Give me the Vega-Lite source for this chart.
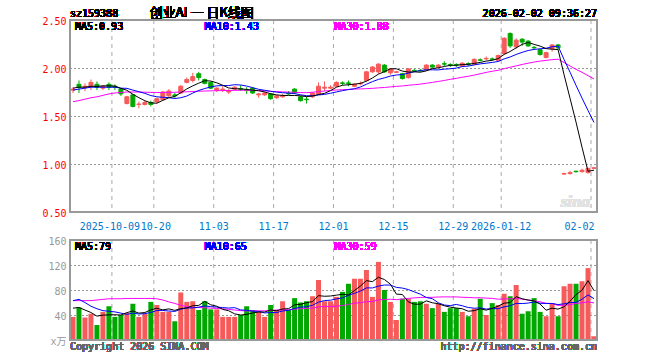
{
"$schema": "https://vega.github.io/schema/vega-lite/v6.json",
"width": 527, "height": 320,
"autosize": {"type": "none"},
"padding": {"left": 70, "top": 20, "right": 63, "bottom": 20},
"background": "#ffffff",
"config": {"view": {"stroke": null}, "text": {"font": "DejaVu Sans Mono", "fontSize": 10}, "axis": {"labelFont": "DejaVu Sans Mono", "labelFontSize": 10}},
"datasets": {
"t": [{"d":"2025-10-09","label":"2025-10-09"},{"d":"2025-10-20","label":"10-20"},{"d":"2025-11-03","label":"11-03"},{"d":"2025-11-17","label":"11-17"},{"d":"2025-12-01","label":"12-01"},{"d":"2025-12-15","label":"12-15"},{"d":"2025-12-29","label":"12-29"},{"d":"2026-01-12","label":"2026-01-12"},{"d":"2026-02-02","label":"02-02"}],
"pg": [{"p":1.0},{"p":1.5},{"p":2.0}],
"vg": [{"q":40},{"q":80},{"q":120}],
"k": [
{"d":"2025-09-22","o":1.77,"h":1.80,"l":1.74,"c":1.78,"v":37,"m5":1.79,"m10":1.77,"m30":1.65,"v5":51,"v10":63,"v30":63},
{"d":"2025-09-23","o":1.83,"h":1.87,"l":1.74,"c":1.80,"v":52,"m5":1.80,"m10":1.78,"m30":1.66,"v5":52,"v10":65,"v30":63},
{"d":"2025-09-24","o":1.80,"h":1.84,"l":1.76,"c":1.81,"v":36,"m5":1.80,"m10":1.79,"m30":1.675,"v5":48,"v10":60,"v30":63},
{"d":"2025-09-25","o":1.81,"h":1.88,"l":1.77,"c":1.85,"v":42,"m5":1.81,"m10":1.80,"m30":1.69,"v5":44,"v10":54,"v30":63},
{"d":"2025-09-26","o":1.83,"h":1.86,"l":1.77,"c":1.80,"v":24,"m5":1.808,"m10":1.80,"m30":1.70,"v5":38.2,"v10":50,"v30":64},
{"d":"2025-09-29","o":1.79,"h":1.82,"l":1.77,"c":1.81,"v":45,"m5":1.814,"m10":1.80,"m30":1.715,"v5":39.8,"v10":47,"v30":65},
{"d":"2025-09-30","o":1.83,"h":1.85,"l":1.77,"c":1.80,"v":54,"m5":1.814,"m10":1.80,"m30":1.73,"v5":40.2,"v10":46,"v30":66},
{"d":"2025-10-09","o":1.81,"h":1.83,"l":1.77,"c":1.80,"v":37,"m5":1.812,"m10":1.80,"m30":1.74,"v5":40.4,"v10":45,"v30":66},
{"d":"2025-10-10","o":1.78,"h":1.79,"l":1.71,"c":1.73,"v":40,"m5":1.788,"m10":1.79,"m30":1.745,"v5":40,"v10":43,"v30":66},
{"d":"2025-10-13","o":1.63,"h":1.71,"l":1.62,"c":1.70,"v":43,"m5":1.768,"m10":1.788,"m30":1.75,"v5":43.8,"v10":41,"v30":66.5},
{"d":"2025-10-14","o":1.72,"h":1.73,"l":1.59,"c":1.60,"v":58,"m5":1.726,"m10":1.77,"m30":1.75,"v5":46.4,"v10":43.1,"v30":66.5},
{"d":"2025-10-15","o":1.62,"h":1.65,"l":1.58,"c":1.625,"v":37,"m5":1.691,"m10":1.753,"m30":1.75,"v5":43,"v10":41.6,"v30":66.5},
{"d":"2025-10-16","o":1.62,"h":1.66,"l":1.61,"c":1.64,"v":42,"m5":1.659,"m10":1.736,"m30":1.748,"v5":44,"v10":42.2,"v30":66.5},
{"d":"2025-10-17","o":1.64,"h":1.66,"l":1.60,"c":1.62,"v":61,"m5":1.637,"m10":1.713,"m30":1.746,"v5":48.2,"v10":44.1,"v30":66.5},
{"d":"2025-10-20","o":1.65,"h":1.69,"l":1.63,"c":1.68,"v":56,"m5":1.633,"m10":1.70,"m30":1.745,"v5":50.8,"v10":47.3,"v30":66},
{"d":"2025-10-21","o":1.67,"h":1.76,"l":1.66,"c":1.75,"v":45,"m5":1.663,"m10":1.695,"m30":1.745,"v5":48.2,"v10":47.3,"v30":64},
{"d":"2025-10-22","o":1.71,"h":1.78,"l":1.70,"c":1.76,"v":45,"m5":1.69,"m10":1.691,"m30":1.746,"v5":49.8,"v10":46.4,"v30":61},
{"d":"2025-10-23","o":1.72,"h":1.74,"l":1.69,"c":1.71,"v":30,"m5":1.704,"m10":1.682,"m30":1.747,"v5":47.4,"v10":45.7,"v30":58.5},
{"d":"2025-10-24","o":1.74,"h":1.82,"l":1.73,"c":1.81,"v":76,"m5":1.742,"m10":1.69,"m30":1.75,"v5":50.4,"v10":49.3,"v30":55.5},
{"d":"2025-10-27","o":1.85,"h":1.90,"l":1.84,"c":1.88,"v":61,"m5":1.782,"m10":1.708,"m30":1.752,"v5":51.4,"v10":51.1,"v30":53.5},
{"d":"2025-10-28","o":1.87,"h":1.95,"l":1.85,"c":1.91,"v":62,"m5":1.814,"m10":1.739,"m30":1.755,"v5":54.8,"v10":51.5,"v30":52},
{"d":"2025-10-29","o":1.94,"h":1.96,"l":1.87,"c":1.90,"v":48,"m5":1.842,"m10":1.766,"m30":1.758,"v5":55.4,"v10":52.6,"v30":52},
{"d":"2025-10-30","o":1.88,"h":1.89,"l":1.83,"c":1.84,"v":62,"m5":1.868,"m10":1.786,"m30":1.76,"v5":61.8,"v10":54.6,"v30":51.5},
{"d":"2025-10-31","o":1.85,"h":1.86,"l":1.78,"c":1.79,"v":49,"m5":1.864,"m10":1.803,"m30":1.762,"v5":56.4,"v10":53.4,"v30":51},
{"d":"2025-11-03","o":1.77,"h":1.80,"l":1.75,"c":1.79,"v":49,"m5":1.846,"m10":1.814,"m30":1.764,"v5":54,"v10":52.7,"v30":50.5},
{"d":"2025-11-04","o":1.775,"h":1.81,"l":1.75,"c":1.78,"v":37,"m5":1.82,"m10":1.817,"m30":1.765,"v5":49,"v10":51.9,"v30":50},
{"d":"2025-11-05","o":1.75,"h":1.78,"l":1.73,"c":1.76,"v":37,"m5":1.792,"m10":1.817,"m30":1.766,"v5":46.8,"v10":51.1,"v30":49},
{"d":"2025-11-06","o":1.78,"h":1.81,"l":1.77,"c":1.80,"v":37,"m5":1.784,"m10":1.826,"m30":1.767,"v5":41.8,"v10":51.8,"v30":48},
{"d":"2025-11-07","o":1.785,"h":1.82,"l":1.76,"c":1.78,"v":40,"m5":1.782,"m10":1.823,"m30":1.768,"v5":40,"v10":48.2,"v30":47},
{"d":"2025-11-10","o":1.77,"h":1.80,"l":1.73,"c":1.765,"v":54,"m5":1.777,"m10":1.812,"m30":1.769,"v5":41,"v10":47.5,"v30":46.5},
{"d":"2025-11-11","o":1.79,"h":1.80,"l":1.73,"c":1.74,"v":48,"m5":1.769,"m10":1.795,"m30":1.768,"v5":43.2,"v10":46.1,"v30":46.9},
{"d":"2025-11-12","o":1.72,"h":1.74,"l":1.69,"c":1.73,"v":45,"m5":1.763,"m10":1.778,"m30":1.765,"v5":44.8,"v10":45.8,"v30":46.7},
{"d":"2025-11-13","o":1.72,"h":1.75,"l":1.71,"c":1.74,"v":37,"m5":1.751,"m10":1.768,"m30":1.763,"v5":44.8,"v10":43.3,"v30":46.7},
{"d":"2025-11-14","o":1.73,"h":1.74,"l":1.67,"c":1.68,"v":56,"m5":1.731,"m10":1.757,"m30":1.757,"v5":48,"v10":44,"v30":47.2},
{"d":"2025-11-17","o":1.69,"h":1.72,"l":1.68,"c":1.71,"v":48,"m5":1.72,"m10":1.749,"m30":1.754,"v5":46.8,"v10":43.9,"v30":48},
{"d":"2025-11-18","o":1.70,"h":1.73,"l":1.69,"c":1.71,"v":62,"m5":1.714,"m10":1.742,"m30":1.751,"v5":49.6,"v10":46.4,"v30":48.5},
{"d":"2025-11-19","o":1.735,"h":1.76,"l":1.72,"c":1.73,"v":48,"m5":1.714,"m10":1.739,"m30":1.749,"v5":50.2,"v10":47.5,"v30":48.3},
{"d":"2025-11-20","o":1.78,"h":1.79,"l":1.73,"c":1.74,"v":67,"m5":1.714,"m10":1.733,"m30":1.747,"v5":56.2,"v10":50.5,"v30":49.3},
{"d":"2025-11-21","o":1.70,"h":1.71,"l":1.65,"c":1.66,"v":60,"m5":1.71,"m10":1.721,"m30":1.744,"v5":57,"v10":52.5,"v30":50},
{"d":"2025-11-24","o":1.675,"h":1.70,"l":1.63,"c":1.67,"v":62,"m5":1.702,"m10":1.711,"m30":1.743,"v5":59.8,"v10":53.3,"v30":50.6},
{"d":"2025-11-25","o":1.70,"h":1.75,"l":1.69,"c":1.74,"v":70,"m5":1.708,"m10":1.711,"m30":1.748,"v5":61.4,"v10":55.5,"v30":51},
{"d":"2025-11-26","o":1.73,"h":1.85,"l":1.72,"c":1.81,"v":96,"m5":1.724,"m10":1.719,"m30":1.754,"v5":71,"v10":60.6,"v30":53},
{"d":"2025-11-27","o":1.79,"h":1.86,"l":1.76,"c":1.80,"v":62,"m5":1.736,"m10":1.725,"m30":1.76,"v5":70,"v10":63.1,"v30":53.7},
{"d":"2025-11-28","o":1.79,"h":1.82,"l":1.78,"c":1.80,"v":62,"m5":1.764,"m10":1.737,"m30":1.766,"v5":70.4,"v10":63.7,"v30":53.7},
{"d":"2025-12-01","o":1.81,"h":1.86,"l":1.80,"c":1.85,"v":69,"m5":1.80,"m10":1.751,"m30":1.771,"v5":71.8,"v10":65.8,"v30":54.1},
{"d":"2025-12-02","o":1.845,"h":1.86,"l":1.82,"c":1.84,"v":77,"m5":1.82,"m10":1.764,"m30":1.774,"v5":73.2,"v10":67.3,"v30":55.2},
{"d":"2025-12-03","o":1.845,"h":1.87,"l":1.81,"c":1.84,"v":90,"m5":1.826,"m10":1.775,"m30":1.777,"v5":72,"v10":71.5,"v30":56.7},
{"d":"2025-12-04","o":1.81,"h":1.84,"l":1.80,"c":1.83,"v":98,"m5":1.832,"m10":1.784,"m30":1.781,"v5":79.2,"v10":74.6,"v30":59},
{"d":"2025-12-05","o":1.835,"h":1.86,"l":1.82,"c":1.84,"v":98,"m5":1.84,"m10":1.802,"m30":1.782,"v5":86.4,"v10":78.4,"v30":59.7},
{"d":"2025-12-08","o":1.87,"h":1.97,"l":1.86,"c":1.96,"v":112,"m5":1.862,"m10":1.831,"m30":1.785,"v5":95,"v10":83.4,"v30":61.4},
{"d":"2025-12-09","o":1.96,"h":2.02,"l":1.95,"c":2.01,"v":69,"m5":1.896,"m10":1.858,"m30":1.788,"v5":93.4,"v10":83.3,"v30":61.6},
{"d":"2025-12-10","o":1.96,"h":2.05,"l":1.94,"c":2.04,"v":125,"m5":1.936,"m10":1.881,"m30":1.793,"v5":100.4,"v10":86.2,"v30":64.2},
{"d":"2025-12-11","o":2.03,"h":2.04,"l":1.95,"c":1.96,"v":80,"m5":1.962,"m10":1.897,"m30":1.797,"v5":96.8,"v10":88,"v30":64.8},
{"d":"2025-12-12","o":1.95,"h":2.00,"l":1.93,"c":1.99,"v":61,"m5":1.992,"m10":1.916,"m30":1.803,"v5":89.4,"v10":87.9,"v30":65.2},
{"d":"2025-12-15","o":1.955,"h":1.97,"l":1.95,"c":1.96,"v":32,"m5":1.992,"m10":1.927,"m30":1.809,"v5":73.4,"v10":84.2,"v30":64.6},
{"d":"2025-12-16","o":1.94,"h":1.95,"l":1.88,"c":1.89,"v":66,"m5":1.968,"m10":1.932,"m30":1.813,"v5":72.8,"v10":83.1,"v30":65.6},
{"d":"2025-12-17","o":1.90,"h":2.00,"l":1.89,"c":1.99,"v":66,"m5":1.958,"m10":1.947,"m30":1.82,"v5":61,"v10":80.7,"v30":66.6},
{"d":"2025-12-18","o":1.975,"h":1.99,"l":1.96,"c":1.97,"v":61,"m5":1.96,"m10":1.961,"m30":1.826,"v5":57.2,"v10":77,"v30":67.4},
{"d":"2025-12-19","o":1.975,"h":1.99,"l":1.96,"c":1.97,"v":62,"m5":1.956,"m10":1.974,"m30":1.832,"v5":57.4,"v10":73.4,"v30":68.1},
{"d":"2025-12-22","o":1.98,"h":2.04,"l":1.97,"c":2.03,"v":58,"m5":1.97,"m10":1.981,"m30":1.841,"v5":62.6,"v10":68,"v30":68.2},
{"d":"2025-12-23","o":2.03,"h":2.04,"l":2.00,"c":2.01,"v":51,"m5":1.994,"m10":1.981,"m30":1.85,"v5":59.6,"v10":66.2,"v30":68.3},
{"d":"2025-12-24","o":2.01,"h":2.04,"l":2.00,"c":2.03,"v":58,"m5":2.002,"m10":1.98,"m30":1.86,"v5":58,"v10":59.5,"v30":68.8},
{"d":"2025-12-25","o":2.045,"h":2.07,"l":2.02,"c":2.04,"v":45,"m5":2.016,"m10":1.988,"m30":1.87,"v5":54.8,"v10":56,"v30":69},
{"d":"2025-12-26","o":2.035,"h":2.05,"l":2.01,"c":2.03,"v":51,"m5":2.028,"m10":1.992,"m30":1.882,"v5":52.6,"v10":55,"v30":68.9},
{"d":"2025-12-29","o":2.035,"h":2.05,"l":2.01,"c":2.03,"v":51,"m5":2.028,"m10":1.999,"m30":1.892,"v5":51.2,"v10":56.9,"v30":69},
{"d":"2025-12-30","o":2.02,"h":2.06,"l":2.01,"c":2.05,"v":45,"m5":2.036,"m10":2.015,"m30":1.904,"v5":50,"v10":54.8,"v30":68.4},
{"d":"2025-12-31","o":2.045,"h":2.06,"l":2.02,"c":2.04,"v":38,"m5":2.038,"m10":2.02,"m30":1.914,"v5":46,"v10":52,"v30":68.1},
{"d":"2026-01-05","o":2.04,"h":2.10,"l":2.03,"c":2.09,"v":50,"m5":2.048,"m10":2.032,"m30":1.926,"v5":47,"v10":50.9,"v30":67.5},
{"d":"2026-01-06","o":2.085,"h":2.10,"l":2.07,"c":2.08,"v":66,"m5":2.058,"m10":2.043,"m30":1.94,"v5":50,"v10":51.3,"v30":67.7},
{"d":"2026-01-07","o":2.095,"h":2.12,"l":2.08,"c":2.10,"v":40,"m5":2.072,"m10":2.05,"m30":1.954,"v5":47.8,"v10":49.5,"v30":67},
{"d":"2026-01-08","o":2.095,"h":2.11,"l":2.08,"c":2.09,"v":59,"m5":2.08,"m10":2.058,"m30":1.966,"v5":50.6,"v10":50.3,"v30":66.6},
{"d":"2026-01-09","o":2.08,"h":2.14,"l":2.07,"c":2.13,"v":56,"m5":2.098,"m10":2.068,"m30":1.976,"v5":54.2,"v10":50.1,"v30":65.3},
{"d":"2026-01-12","o":2.15,"h":2.32,"l":2.14,"c":2.31,"v":74,"m5":2.142,"m10":2.095,"m30":1.993,"v5":59,"v10":53,"v30":65.7},
{"d":"2026-01-13","o":2.36,"h":2.37,"l":2.21,"c":2.23,"v":70,"m5":2.172,"m10":2.115,"m30":2.008,"v5":59.8,"v10":54.9,"v30":65.9},
{"d":"2026-01-14","o":2.22,"h":2.31,"l":2.20,"c":2.29,"v":88,"m5":2.21,"m10":2.141,"m30":2.022,"v5":69.4,"v10":58.6,"v30":66.6},
{"d":"2026-01-15","o":2.30,"h":2.31,"l":2.23,"c":2.27,"v":42,"m5":2.246,"m10":2.163,"m30":2.037,"v5":66,"v10":58.3,"v30":65.4},
{"d":"2026-01-16","o":2.28,"h":2.29,"l":2.22,"c":2.23,"v":46,"m5":2.266,"m10":2.182,"m30":2.05,"v5":64,"v10":59.1,"v30":63.9},
{"d":"2026-01-19","o":2.215,"h":2.23,"l":2.19,"c":2.21,"v":67,"m5":2.246,"m10":2.194,"m30":2.062,"v5":62.6,"v10":60.8,"v30":62.9},
{"d":"2026-01-20","o":2.19,"h":2.20,"l":2.13,"c":2.14,"v":45,"m5":2.228,"m10":2.20,"m30":2.072,"v5":57.6,"v10":58.7,"v30":61.1},
{"d":"2026-01-21","o":2.11,"h":2.17,"l":2.10,"c":2.16,"v":38,"m5":2.202,"m10":2.206,"m30":2.079,"v5":47.6,"v10":58.5,"v30":58.7},
{"d":"2026-01-22","o":2.20,"h":2.25,"l":2.17,"c":2.24,"v":59,"m5":2.196,"m10":2.221,"m30":2.087,"v5":51,"v10":58.5,"v30":58.3},
{"d":"2026-01-23","o":2.24,"h":2.25,"l":2.19,"c":2.21,"v":38,"m5":2.192,"m10":2.229,"m30":2.092,"v5":49.4,"v10":56.7,"v30":55.4},
{"d":"2026-01-26","o":0.895,"h":0.91,"l":0.89,"c":0.90,"v":86,"m5":1.93,"m10":2.088,"m30":2.057,"v5":53.2,"v10":57.9,"v30":55.6},
{"d":"2026-01-27","o":0.90,"h":0.93,"l":0.89,"c":0.91,"v":90,"m5":1.684,"m10":1.956,"m30":2.021,"v5":62.2,"v10":59.9,"v30":56.6},
{"d":"2026-01-28","o":0.925,"h":0.93,"l":0.91,"c":0.92,"v":90,"m5":1.436,"m10":1.819,"m30":1.986,"v5":72.6,"v10":60.1,"v30":58.5},
{"d":"2026-01-29","o":0.92,"h":0.95,"l":0.91,"c":0.935,"v":94,"m5":1.175,"m10":1.686,"m30":1.955,"v5":79.6,"v10":65.3,"v30":59.5},
{"d":"2026-01-30","o":0.91,"h":0.96,"l":0.90,"c":0.955,"v":115,"m5":0.924,"m10":1.558,"m30":1.92,"v5":95,"v10":72.2,"v30":61.1},
{"d":"2026-02-02","o":0.955,"h":0.97,"l":0.95,"c":0.96,"v":6,"m5":0.936,"m10":1.433,"m30":1.886,"v5":79,"v10":66.1,"v30":59.3}
]},
"data": {"name": "k"},
"layer": [
 {"data": {"name": "pg"}, "mark": {"type": "rule", "color": "#999999", "strokeDash": [2, 2], "strokeWidth": 1, "yOffset": 0.5},
  "encoding": {"x": {"datum": "2025-09-22", "type": "ordinal", "bandPosition": 0, "axis": null}, "x2": {"datum": "2026-02-02", "bandPosition": 1},
   "y": {"field": "p", "type": "quantitative", "scale": {"domain": [0.5, 2.5], "range": [192, 0], "nice": false, "zero": false}, "axis": null}}},
 {"data": {"name": "vg"}, "mark": {"type": "rule", "color": "#999999", "strokeDash": [2, 2], "strokeWidth": 1, "yOffset": 0.5},
  "encoding": {"x": {"datum": "2025-09-22", "type": "ordinal", "bandPosition": 0, "axis": null}, "x2": {"datum": "2026-02-02", "bandPosition": 1},
   "y": {"field": "q", "type": "quantitative", "scale": {"domain": [0, 160], "range": [320, 220], "nice": false}, "axis": null}}},
 {"data": {"name": "t"}, "mark": {"type": "rule", "color": "#aaaaaa", "strokeDash": [4, 4], "strokeWidth": 1},
  "encoding": {"x": {"field": "d", "type": "ordinal", "bandPosition": 0, "axis": null, "scale": {"paddingInner": 0, "paddingOuter": 0}},
   "y": {"datum": 2.5, "type": "quantitative", "scale": {"domain": [0.5, 2.5], "range": [192, 0], "nice": false, "zero": false}, "axis": null}, "y2": {"datum": 0.5}}},
 {"data": {"name": "t"}, "mark": {"type": "rule", "color": "#aaaaaa", "strokeDash": [4, 4], "strokeWidth": 1},
  "encoding": {"x": {"field": "d", "type": "ordinal", "bandPosition": 0, "axis": null, "scale": {"paddingInner": 0, "paddingOuter": 0}},
   "y": {"datum": 160, "type": "quantitative", "scale": {"domain": [0, 160], "range": [320, 220], "nice": false}, "axis": null}, "y2": {"datum": 0}}},
 {"data": {"name": "t"}, "transform": [{"filter": "datum.d == '2025-10-09'"}],
  "mark": {"type": "text", "align": "center", "baseline": "alphabetic", "dx": -2, "dy": 18, "color": "#0077cc"},
  "encoding": {"x": {"field": "d", "type": "ordinal", "bandPosition": 0, "axis": null, "scale": {"paddingInner": 0, "paddingOuter": 0}},
   "y": {"datum": 0.5, "type": "quantitative", "scale": {"domain": [0.5, 2.5], "range": [192, 0], "nice": false, "zero": false}, "axis": null},
   "text": {"field": "label"}}},
 {"data": {"name": "t"}, "transform": [{"filter": "datum.d == '2025-10-20'"}],
  "mark": {"type": "text", "align": "center", "baseline": "alphabetic", "dx": 2, "dy": 18, "color": "#0077cc"},
  "encoding": {"x": {"field": "d", "type": "ordinal", "bandPosition": 0, "axis": null, "scale": {"paddingInner": 0, "paddingOuter": 0}},
   "y": {"datum": 0.5, "type": "quantitative", "scale": {"domain": [0.5, 2.5], "range": [192, 0], "nice": false, "zero": false}, "axis": null},
   "text": {"field": "label"}}},
 {"data": {"name": "t"}, "transform": [{"filter": "datum.d != '2026-02-02' && datum.d != '2025-10-09' && datum.d != '2025-10-20'"}],
  "mark": {"type": "text", "align": "center", "baseline": "alphabetic", "dy": 18, "color": "#0077cc"},
  "encoding": {"x": {"field": "d", "type": "ordinal", "bandPosition": 0, "axis": null, "scale": {"paddingInner": 0, "paddingOuter": 0}},
   "y": {"datum": 0.5, "type": "quantitative", "scale": {"domain": [0.5, 2.5], "range": [192, 0], "nice": false, "zero": false}, "axis": null},
   "text": {"field": "label"}}},
 {"data": {"name": "t"}, "transform": [{"filter": "datum.d == '2026-02-02'"}],
  "mark": {"type": "text", "align": "right", "baseline": "alphabetic", "dx": 3.5, "dy": 18, "color": "#0077cc"},
  "encoding": {"x": {"field": "d", "type": "ordinal", "bandPosition": 0, "axis": null, "scale": {"paddingInner": 0, "paddingOuter": 0}},
   "y": {"datum": 0.5, "type": "quantitative", "scale": {"domain": [0.5, 2.5], "range": [192, 0], "nice": false, "zero": false}, "axis": null},
   "text": {"field": "label"}}},
 {"mark": {"type": "rule", "strokeWidth": 1},
  "encoding": {
   "x": {"field": "d", "type": "ordinal", "axis": null, "scale": {"paddingInner": 0, "paddingOuter": 0}},
   "y": {"field": "l", "type": "quantitative", "title": null, "scale": {"domain": [0.5, 2.5], "range": [192, 0], "nice": false, "zero": false},
    "axis": {"orient": "left", "values": [0.5, 1, 1.5, 2, 2.5], "format": ".2f", "title": null, "domain": false, "ticks": false, "grid": false, "labelColor": "#ff0000", "labelPadding": 4, "labelBaseline": "middle", "labelOffset": 1}},
   "y2": {"field": "h"},
   "color": {"condition": {"test": "datum.c >= datum.o", "value": "#f65a5a"}, "value": "#00a800"}}},
 {"mark": {"type": "bar", "width": 4, "strokeWidth": 1},
  "encoding": {"x": {"field": "d", "type": "ordinal", "axis": null, "scale": {"paddingInner": 0, "paddingOuter": 0}},
   "y": {"field": "o", "type": "quantitative", "title": null, "axis": null, "scale": {"domain": [0.5, 2.5], "range": [192, 0], "nice": false, "zero": false}},
   "y2": {"field": "c"},
   "fill": {"condition": {"test": "datum.c >= datum.o", "value": "#f65a5a"}, "value": "#00a800"},
   "stroke": {"condition": {"test": "datum.c >= datum.o", "value": "#f65a5a"}, "value": "#00a800"}}},
 {"mark": {"type": "line", "color": "#ff00ff", "strokeWidth": 1},
  "encoding": {"x": {"field": "d", "type": "ordinal", "axis": null, "scale": {"paddingInner": 0, "paddingOuter": 0}},
   "y": {"field": "m30", "type": "quantitative", "title": null, "axis": null, "scale": {"domain": [0.5, 2.5], "range": [192, 0], "nice": false, "zero": false}}}},
 {"mark": {"type": "line", "color": "#0000ff", "strokeWidth": 1},
  "encoding": {"x": {"field": "d", "type": "ordinal", "axis": null, "scale": {"paddingInner": 0, "paddingOuter": 0}},
   "y": {"field": "m10", "type": "quantitative", "title": null, "axis": null, "scale": {"domain": [0.5, 2.5], "range": [192, 0], "nice": false, "zero": false}}}},
 {"mark": {"type": "line", "color": "#000000", "strokeWidth": 1},
  "encoding": {"x": {"field": "d", "type": "ordinal", "axis": null, "scale": {"paddingInner": 0, "paddingOuter": 0}},
   "y": {"field": "m5", "type": "quantitative", "title": null, "axis": null, "scale": {"domain": [0.5, 2.5], "range": [192, 0], "nice": false, "zero": false}}}},
 {"mark": {"type": "bar", "width": 5},
  "encoding": {"x": {"field": "d", "type": "ordinal", "axis": null, "scale": {"paddingInner": 0, "paddingOuter": 0}},
   "y": {"field": "v", "type": "quantitative", "title": null, "scale": {"domain": [0, 160], "range": [320, 220], "nice": false},
    "axis": {"orient": "left", "values": [0, 40, 80, 120, 160], "title": null, "domain": false, "ticks": false, "grid": false, "labelColor": "#999999", "labelPadding": 4, "labelBaseline": "middle", "labelOffset": 1, "labelFont": "DejaVu Sans Mono, Noto Sans CJK SC", "labelExpr": "datum.value == 0 ? 'x万' : datum.label"}},
   "color": {"condition": {"test": "datum.c >= datum.o", "value": "#f65a5a"}, "value": "#00a800"}}},
 {"mark": {"type": "line", "color": "#ff00ff", "strokeWidth": 1},
  "encoding": {"x": {"field": "d", "type": "ordinal", "axis": null, "scale": {"paddingInner": 0, "paddingOuter": 0}},
   "y": {"field": "v30", "type": "quantitative", "title": null, "axis": null, "scale": {"domain": [0, 160], "range": [320, 220], "nice": false}}}},
 {"mark": {"type": "line", "color": "#0000ff", "strokeWidth": 1},
  "encoding": {"x": {"field": "d", "type": "ordinal", "axis": null, "scale": {"paddingInner": 0, "paddingOuter": 0}},
   "y": {"field": "v10", "type": "quantitative", "title": null, "axis": null, "scale": {"domain": [0, 160], "range": [320, 220], "nice": false}}}},
 {"mark": {"type": "line", "color": "#000000", "strokeWidth": 1},
  "encoding": {"x": {"field": "d", "type": "ordinal", "axis": null, "scale": {"paddingInner": 0, "paddingOuter": 0}},
   "y": {"field": "v5", "type": "quantitative", "title": null, "axis": null, "scale": {"domain": [0, 160], "range": [320, 220], "nice": false}}}},
 {"mark": {"type": "rect", "fill": "transparent", "stroke": "#999999", "strokeWidth": 1.5},
  "encoding": {"x": {"value": 0}, "x2": {"value": "width"},
   "y": {"datum": 2.5, "type": "quantitative", "axis": null, "scale": {"domain": [0.5, 2.5], "range": [192, 0], "nice": false, "zero": false}}, "y2": {"datum": 0.5}}},
 {"mark": {"type": "rect", "fill": "transparent", "stroke": "#999999", "strokeWidth": 1.5},
  "encoding": {"x": {"value": 0}, "x2": {"value": "width"},
   "y": {"datum": 160, "type": "quantitative", "axis": null, "scale": {"domain": [0, 160], "range": [320, 220], "nice": false}}, "y2": {"datum": 0}}},
 {"mark": {"type": "text", "text": "sina", "align": "right", "baseline": "alphabetic", "dx": -4, "dy": -5, "font": "Liberation Serif", "fontSize": 17, "fontStyle": "italic", "fontWeight": "bold", "color": "#e2e2e2"},
  "encoding": {"x": {"datum": "2026-02-02", "type": "ordinal", "axis": null}, "y": {"datum": 0.5, "type": "quantitative", "axis": null, "scale": {"domain": [0.5, 2.5], "range": [192, 0], "nice": false, "zero": false}}}},
 {"mark": {"type": "text", "text": "sz159388", "align": "left", "baseline": "alphabetic", "dx": -3, "dy": -3, "color": "#000000"},
  "encoding": {"x": {"datum": "2025-09-22", "type": "ordinal", "axis": null}, "y": {"datum": 2.5, "type": "quantitative", "axis": null, "scale": {"domain": [0.5, 2.5], "range": [192, 0], "nice": false, "zero": false}}}},
 {"mark": {"type": "text", "text": "创业AI 一 日K线图", "align": "left", "baseline": "alphabetic", "dx": -1, "dy": -3, "font": "Noto Sans CJK SC", "fontSize": 13, "color": "#000000"},
  "encoding": {"x": {"datum": "2025-10-17", "type": "ordinal", "axis": null}, "y": {"datum": 2.5, "type": "quantitative", "axis": null, "scale": {"domain": [0.5, 2.5], "range": [192, 0], "nice": false, "zero": false}}}},
 {"mark": {"type": "text", "text": "2026-02-02 09:36:27", "align": "right", "baseline": "alphabetic", "dx": 3, "dy": -3, "color": "#000000"},
  "encoding": {"x": {"datum": "2026-02-02", "type": "ordinal", "axis": null}, "y": {"datum": 2.5, "type": "quantitative", "axis": null, "scale": {"domain": [0.5, 2.5], "range": [192, 0], "nice": false, "zero": false}}}},
 {"mark": {"type": "text", "text": "MA5:0.93", "align": "left", "baseline": "alphabetic", "dx": 2, "dy": 9.5, "color": "#000000"},
  "encoding": {"x": {"datum": "2025-09-22", "type": "ordinal", "axis": null}, "y": {"datum": 2.5, "type": "quantitative", "axis": null, "scale": {"domain": [0.5, 2.5], "range": [192, 0], "nice": false, "zero": false}}}},
 {"mark": {"type": "text", "text": "MA10:1.43", "align": "left", "baseline": "alphabetic", "dx": 0, "dy": 9.5, "color": "#0000ff"},
  "encoding": {"x": {"datum": "2025-10-30", "type": "ordinal", "axis": null}, "y": {"datum": 2.5, "type": "quantitative", "axis": null, "scale": {"domain": [0.5, 2.5], "range": [192, 0], "nice": false, "zero": false}}}},
 {"mark": {"type": "text", "text": "MA30:1.88", "align": "left", "baseline": "alphabetic", "dx": -2, "dy": 9.5, "color": "#ff00ff"},
  "encoding": {"x": {"datum": "2025-12-01", "type": "ordinal", "axis": null}, "y": {"datum": 2.5, "type": "quantitative", "axis": null, "scale": {"domain": [0.5, 2.5], "range": [192, 0], "nice": false, "zero": false}}}},
 {"mark": {"type": "text", "text": "MA5:79", "align": "left", "baseline": "alphabetic", "dx": 2, "dy": 9.5, "color": "#000000"},
  "encoding": {"x": {"datum": "2025-09-22", "type": "ordinal", "axis": null}, "y": {"datum": 160, "type": "quantitative", "axis": null, "scale": {"domain": [0, 160], "range": [320, 220], "nice": false}}}},
 {"mark": {"type": "text", "text": "MA10:65", "align": "left", "baseline": "alphabetic", "dx": 0, "dy": 9.5, "color": "#0000ff"},
  "encoding": {"x": {"datum": "2025-10-30", "type": "ordinal", "axis": null}, "y": {"datum": 160, "type": "quantitative", "axis": null, "scale": {"domain": [0, 160], "range": [320, 220], "nice": false}}}},
 {"mark": {"type": "text", "text": "MA30:59", "align": "left", "baseline": "alphabetic", "dx": -2, "dy": 9.5, "color": "#ff00ff"},
  "encoding": {"x": {"datum": "2025-12-01", "type": "ordinal", "axis": null}, "y": {"datum": 160, "type": "quantitative", "axis": null, "scale": {"domain": [0, 160], "range": [320, 220], "nice": false}}}},
 {"mark": {"type": "text", "text": "Copyright 2026 SINA.COM", "align": "left", "baseline": "alphabetic", "dx": -3, "dy": 9.5, "color": "#666666"},
  "encoding": {"x": {"datum": "2025-09-22", "type": "ordinal", "axis": null}, "y": {"datum": 0, "type": "quantitative", "axis": null, "scale": {"domain": [0, 160], "range": [320, 220], "nice": false}}}},
 {"mark": {"type": "text", "text": "http://finance.sina.com.cn", "align": "right", "baseline": "alphabetic", "dx": 3, "dy": 9.5, "color": "#666666"},
  "encoding": {"x": {"datum": "2026-02-02", "type": "ordinal", "axis": null}, "y": {"datum": 0, "type": "quantitative", "axis": null, "scale": {"domain": [0, 160], "range": [320, 220], "nice": false}}}}
],
"resolve": {"scale": {"y": "independent"}, "axis": {"y": "independent"}}
}
